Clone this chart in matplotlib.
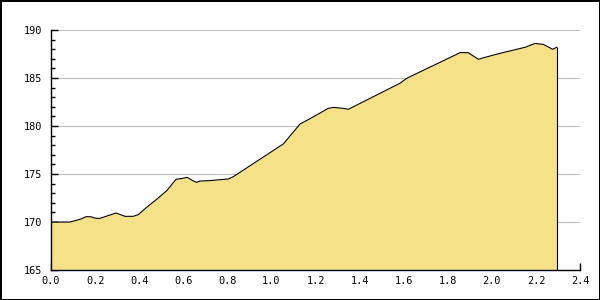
import matplotlib
matplotlib.use("Agg")
import matplotlib.pyplot as plt
from matplotlib.ticker import MultipleLocator

distance = [0.0, 0.086, 0.132, 0.159, 0.18, 0.204, 0.222, 0.268, 0.295, 0.336,
            0.373, 0.396, 0.434, 0.479, 0.525, 0.567, 0.597, 0.618, 0.643, 0.661,
            0.676, 0.714, 0.804, 0.827, 1.012, 1.054, 1.13, 1.175, 1.258, 1.281,
            1.327, 1.349, 1.583, 1.614, 1.856, 1.893, 1.939, 1.969, 2.037, 2.151,
            2.196, 2.234, 2.276, 2.294]
elevation = [170.0, 170.0, 170.28, 170.55, 170.55, 170.38, 170.38, 170.73, 170.94, 170.59,
             170.59, 170.77, 171.53, 172.36, 173.26, 174.44, 174.55, 174.65, 174.31, 174.13,
             174.27, 174.3, 174.48, 174.72, 177.5, 178.13, 180.21, 180.76, 181.84, 181.94,
             181.84, 181.74, 184.45, 184.97, 187.64, 187.64, 186.95, 187.15, 187.57, 188.2,
             188.6, 188.5, 187.99, 188.2]


def main():
    fig = plt.figure(figsize=(6, 3), dpi=100, edgecolor="black", linewidth=2)
    ax = fig.add_axes([0.085, 0.1, 0.8817, 0.8])

    ax.fill_between(distance, elevation, 165, color="#F5E187", linewidth=0, zorder=2)
    ax.plot(distance, elevation, color="black", linewidth=0.8, zorder=3)
    ax.vlines(distance[-1], 165, elevation[-1], color="black", linewidth=0.8, zorder=3)

    ax.set_xlim(0, 2.4)
    ax.set_ylim(165, 190)
    ax.xaxis.set_major_locator(MultipleLocator(0.2))
    ax.yaxis.set_major_locator(MultipleLocator(5))
    ax.yaxis.set_minor_locator(MultipleLocator(1))
    ax.xaxis.set_major_formatter(plt.FormatStrFormatter("%.1f"))

    ax.grid(axis="y", color="#C0C0C0", linewidth=0.8, zorder=1)
    ax.set_axisbelow(True)
    for side in ("top", "right"):
        ax.spines[side].set_visible(False)
    for side in ("left", "bottom"):
        ax.spines[side].set_linewidth(1.0)
        ax.spines[side].set_zorder(4)

    ax.tick_params(axis="both", which="major", direction="in", length=5, width=1,
                   labelsize=7.4, colors="black")
    ax.tick_params(axis="y", which="minor", direction="in", length=3, width=1)
    ax.tick_params(axis="y", which="major", pad=6)
    ax.tick_params(axis="x", which="major", pad=4)
    for lbl in ax.get_xticklabels() + ax.get_yticklabels():
        lbl.set_family("DejaVu Sans Mono")

    fig.savefig("out.png", dpi=100, edgecolor=fig.get_edgecolor())
    plt.close(fig)


if __name__ == "__main__":
    main()
